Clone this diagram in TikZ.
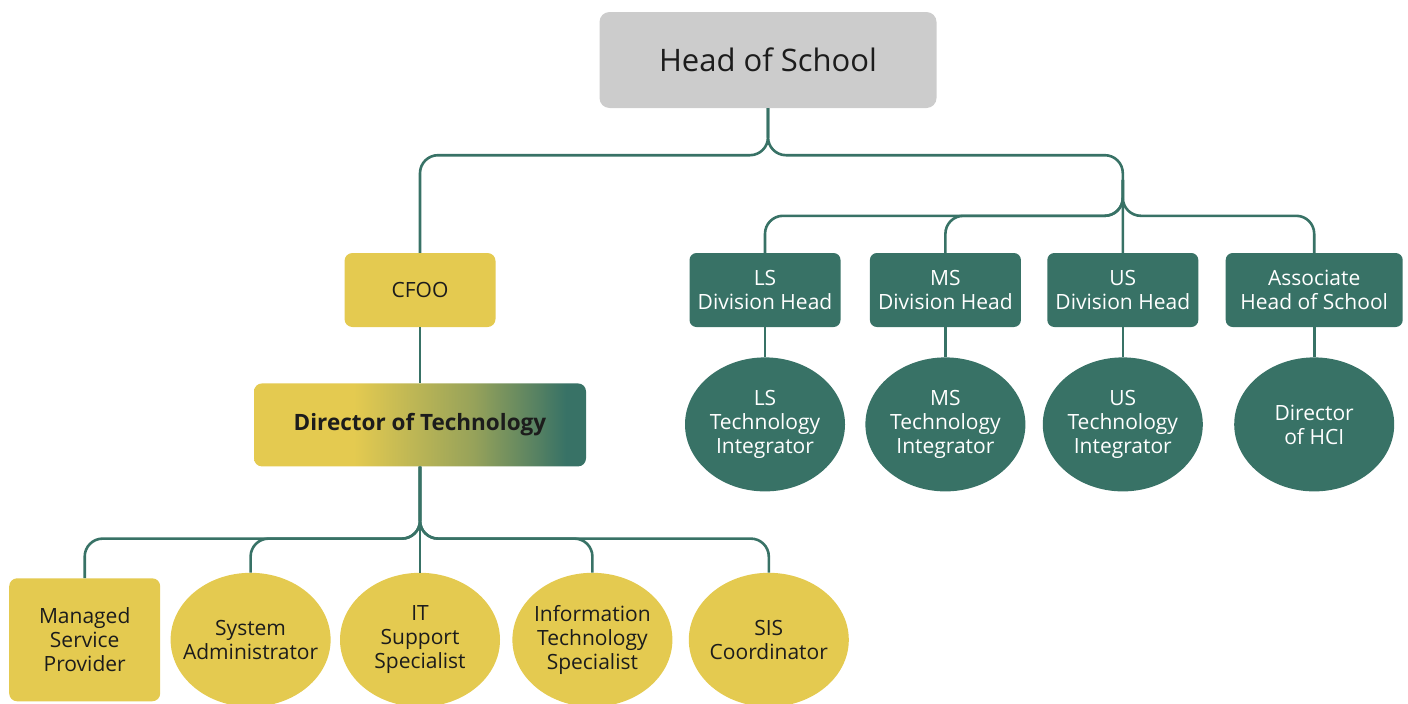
\documentclass[tikz,border=0pt]{standalone}
\usepackage{fontspec}
\setmainfont{Open Sans}
\usepackage{xcolor}
\usepackage{tikz}
\usetikzlibrary{positioning,shapes.geometric}

\definecolor{hosgray}{RGB}{204,204,204}
\definecolor{orgyellow}{RGB}{228,202,80}
\definecolor{orggreen}{RGB}{56,114,102}
\definecolor{orgtext}{RGB}{28,28,28}
\pgfdeclarehorizontalshading{dirshade}{100bp}{color(0bp)=(orgyellow); color(40bp)=(orgyellow); color(58bp)=(orgyellow!55!orggreen); color(72bp)=(orggreen); color(100bp)=(orggreen)}

\begin{document}
\begin{tikzpicture}[
    x=1pt, y=-1pt,
    wire/.style={draw=orggreen, line width=2.6pt, rounded corners=18pt},
    headbox/.style={fill=hosgray, rounded corners=10pt, minimum width=337pt, minimum height=96pt, text=orgtext, font=\fontsize{31}{36}\selectfont},
    yelbox/.style={fill=orgyellow, rounded corners=8pt, minimum width=151pt, minimum height=74pt, align=center, text=orgtext, font=\fontsize{21}{24}\selectfont},
    dirbox/.style={shading=dirshade, rounded corners=8pt, minimum width=332pt, minimum height=83pt, text=orgtext, font=\fontsize{22.5}{26}\selectfont\bfseries},
    grnbox/.style={fill=orggreen, rounded corners=7pt, minimum width=151pt, minimum height=74pt, align=center, text=white, font=\fontsize{21}{24}\selectfont},
    oval/.style={ellipse, inner sep=0pt, minimum width=160pt, minimum height=134pt},
    yeloval/.style={oval, fill=orgyellow, label={[align=center, text=orgtext, font=\fontsize{21}{24}\selectfont]center:{#1}}},
    grnoval/.style={oval, fill=orggreen, label={[align=center, text=white, font=\fontsize{21}{24}\selectfont]center:{#1}}}
  ]
    \useasboundingbox (0,0) rectangle (1408,704);

    \node[headbox] (head) at (768,60) {Head of School};

    % business side
    \node[yelbox] (cfoo) at (420,290) {CFOO};
    \node[dirbox, below=56pt of cfoo] (dirtech) {Director of Technology};
    \node[yeloval={IT\\Support\\Specialist}, below=106pt of dirtech] (itsup) {};
    \node[yeloval={System\\Administrator}, left=9pt of itsup] (sysadm) {};
    \node[yelbox, left=10pt of sysadm, minimum height=123pt] (msp) {Managed\\Service\\Provider};
    \node[yeloval={Information\\Technology\\Specialist}, right=12pt of itsup] (infotech) {};
    \node[yeloval={SIS\\Coordinator}, right=16pt of infotech] (siscoord) {};

    % academic side
    \node[grnbox] (lsdiv) at (765,290) {LS\\Division Head};
    \node[grnbox, right=29pt of lsdiv] (msdiv) {MS\\Division Head};
    \node[grnbox, right=26pt of msdiv] (usdiv) {US\\Division Head};
    \node[grnbox, right=27pt of usdiv, minimum width=177pt] (assoc) {Associate\\Head of School};
    \node[grnoval={LS\\Technology\\Integrator}, below=30pt of lsdiv] (lsint) {};
    \node[grnoval={MS\\Technology\\Integrator}, below=30pt of msdiv] (msint) {};
    \node[grnoval={US\\Technology\\Integrator}, below=30pt of usdiv] (usint) {};
    \node[grnoval={Director\\of HCI}, below=30pt of assoc] (hci) {};

    \draw[wire] (head.south) -- ++(0,47) -| (cfoo.north);
    \draw[wire] (head.south) -- ++(0,47) -| (usdiv.north);
    \coordinate[above=73pt of usdiv.north] (divjoin);
    \foreach \n in {lsdiv,msdiv,assoc}
      \draw[wire] (divjoin) -- ++(0,36) -| (\n.north);
    \foreach \a/\b in {lsdiv/lsint,msdiv/msint,usdiv/usint,assoc/hci,cfoo/dirtech}
      \draw[wire] (\a) -- (\b);

    \foreach \n in {msp,sysadm,infotech,siscoord}
      \draw[wire] (dirtech.south) -- ++(0,72) -| (\n.north);
    \draw[wire] (dirtech) -- (itsup);
  \end{tikzpicture}
\end{document}
